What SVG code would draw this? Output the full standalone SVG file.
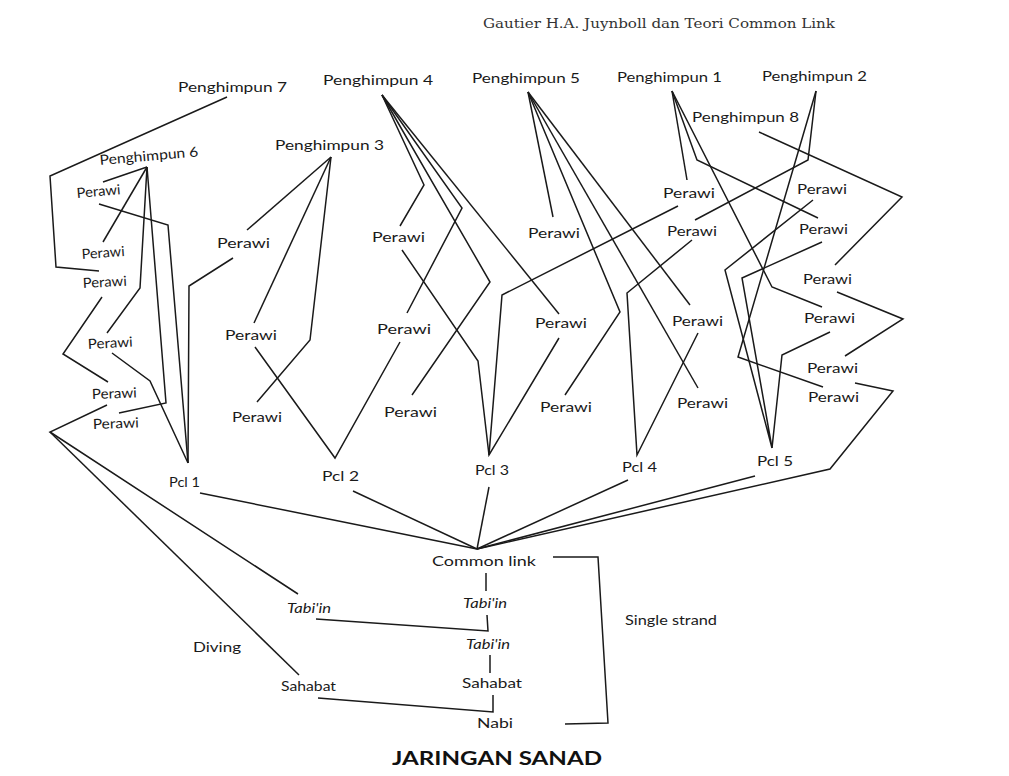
<svg xmlns="http://www.w3.org/2000/svg" width="1009" height="776" viewBox="0 0 1009 776">
<style>
.t{font-family:Lato,"Open Sans","Liberation Sans",sans-serif;font-size:14px;fill:#1a1a1a}
.i{font-style:italic}
.h{font-family:"DejaVu Serif","Liberation Serif",serif;font-size:13px;fill:#333}
.b{font-family:Lato,"Liberation Sans",sans-serif;font-weight:bold;font-size:19px;fill:#111}
.c polyline{fill:none;stroke:#1a1a1a;stroke-width:1.5;stroke-linejoin:miter}
</style>
<rect width="1009" height="776" fill="#fff"/>
<text class="h" x="483" y="28" textLength="352" lengthAdjust="spacingAndGlyphs">Gautier H.A. Juynboll dan Teori Common Link</text>

<g class="c" id="connectors">
<polyline points="227,97 50,176 56,267 99,271"/>
<polyline points="147,167 103,182"/>
<polyline points="99,204 168,225 188,463"/>
<polyline points="147,167 103,242"/>
<polyline points="147,167 140,288 107,333"/>
<polyline points="102,297 63,354 108,382"/>
<polyline points="112,353 150,381 188,463"/>
<polyline points="147,167 166,403 119,413"/>
<polyline points="107,405 50,432 298,594"/>
<polyline points="50,432 299,675"/>
<polyline points="331,157 247,230"/>
<polyline points="233,258 189,286 188,463"/>
<polyline points="331,157 254,323"/>
<polyline points="331,157 310,340 257,402"/>
<polyline points="255,347 335,458 400,342"/>
<polyline points="382,95 424,185 400,226"/>
<polyline points="382,95 462,208 407,313"/>
<polyline points="382,95 490,282 412,395"/>
<polyline points="382,95 559,314"/>
<polyline points="402,250 478,361 489,455 559,338"/>
<polyline points="678,206 502,295 489,455"/>
<polyline points="528,92 553,217"/>
<polyline points="528,92 620,312 565,395"/>
<polyline points="528,92 698,388"/>
<polyline points="528,92 690,305"/>
<polyline points="692,240 627,293 637,455 698,333"/>
<polyline points="672,91 687,180"/>
<polyline points="672,91 697,160 818,218"/>
<polyline points="672,91 772,287 822,307"/>
<polyline points="816,91 808,160 695,220"/>
<polyline points="816,91 738,357 823,387"/>
<polyline points="759,132 902,197 835,265"/>
<polyline points="837,292 903,319 845,356"/>
<polyline points="813,200 725,270 772,448 742,278 822,242"/>
<polyline points="830,332 782,355 772,448"/>
<polyline points="855,383 893,391 830,469 477,549"/>
<polyline points="200,493 477,549"/>
<polyline points="353,491 477,549"/>
<polyline points="489,487 477,549"/>
<polyline points="628,480 477,549"/>
<polyline points="755,476 477,549"/>
<polyline points="486,573 486,591"/>
<polyline points="316,619 488,631 487,615"/>
<polyline points="490,655 490,673"/>
<polyline points="318,698 493,712 493,695"/>
<polyline points="553,557 598,557 608,723 565,724"/>
</g>

<g id="penghimpun7"><text class="t" x="178" y="92" textLength="109" lengthAdjust="spacingAndGlyphs">Penghimpun 7</text></g>
<g id="penghimpun4"><text class="t" x="323" y="85" textLength="110" lengthAdjust="spacingAndGlyphs">Penghimpun 4</text></g>
<g id="penghimpun5"><text class="t" x="472" y="83" textLength="108" lengthAdjust="spacingAndGlyphs">Penghimpun 5</text></g>
<g id="penghimpun1"><text class="t" x="617" y="82" textLength="105" lengthAdjust="spacingAndGlyphs">Penghimpun 1</text></g>
<g id="penghimpun2"><text class="t" x="762" y="81" textLength="105" lengthAdjust="spacingAndGlyphs">Penghimpun 2</text></g>
<g id="penghimpun8"><text class="t" x="692" y="122" textLength="107" lengthAdjust="spacingAndGlyphs">Penghimpun 8</text></g>
<g id="penghimpun3"><text class="t" x="275" y="150" textLength="109" lengthAdjust="spacingAndGlyphs">Penghimpun 3</text></g>
<g id="penghimpun6"><text class="t" x="100" y="165" textLength="99" lengthAdjust="spacingAndGlyphs" transform="rotate(-5 100 165)">Penghimpun 6</text></g>

<g id="perawiA"><text class="t" x="77" y="198" textLength="44" lengthAdjust="spacingAndGlyphs" transform="rotate(-5 77 198)">Perawi</text></g>
<g id="perawiB"><text class="t" x="82" y="259" textLength="43" lengthAdjust="spacingAndGlyphs" transform="rotate(-4 82 259)">Perawi</text></g>
<g id="perawiC"><text class="t" x="83" y="288" textLength="44" lengthAdjust="spacingAndGlyphs" transform="rotate(-3 83 288)">Perawi</text></g>
<g id="perawiD"><text class="t" x="88" y="349" textLength="45" lengthAdjust="spacingAndGlyphs" transform="rotate(-3 88 349)">Perawi</text></g>
<g id="perawiE"><text class="t" x="92" y="399" textLength="45" lengthAdjust="spacingAndGlyphs" transform="rotate(-2 92 399)">Perawi</text></g>
<g id="perawiF"><text class="t" x="93" y="429" textLength="46" lengthAdjust="spacingAndGlyphs" transform="rotate(-2 93 429)">Perawi</text></g>

<g id="perawi3a"><text class="t" x="217" y="248" textLength="53" lengthAdjust="spacingAndGlyphs">Perawi</text></g>
<g id="perawi3b"><text class="t" x="225" y="340" textLength="52" lengthAdjust="spacingAndGlyphs">Perawi</text></g>
<g id="perawi3c"><text class="t" x="232" y="422" textLength="50" lengthAdjust="spacingAndGlyphs">Perawi</text></g>
<g id="perawi4a"><text class="t" x="372" y="242" textLength="53" lengthAdjust="spacingAndGlyphs">Perawi</text></g>
<g id="perawi4b"><text class="t" x="377" y="334" textLength="54" lengthAdjust="spacingAndGlyphs">Perawi</text></g>
<g id="perawi4c"><text class="t" x="384" y="417" textLength="53" lengthAdjust="spacingAndGlyphs">Perawi</text></g>
<g id="perawi5top"><text class="t" x="528" y="238" textLength="52" lengthAdjust="spacingAndGlyphs">Perawi</text></g>
<g id="perawi5a"><text class="t" x="535" y="328" textLength="52" lengthAdjust="spacingAndGlyphs">Perawi</text></g>
<g id="perawi5b"><text class="t" x="540" y="412" textLength="52" lengthAdjust="spacingAndGlyphs">Perawi</text></g>
<g id="perawi1a"><text class="t" x="663" y="198" textLength="52" lengthAdjust="spacingAndGlyphs">Perawi</text></g>
<g id="perawi1b"><text class="t" x="667" y="236" textLength="50" lengthAdjust="spacingAndGlyphs">Perawi</text></g>
<g id="perawi6a"><text class="t" x="672" y="326" textLength="51" lengthAdjust="spacingAndGlyphs">Perawi</text></g>
<g id="perawi6b"><text class="t" x="677" y="408" textLength="51" lengthAdjust="spacingAndGlyphs">Perawi</text></g>
<g id="perawiR1"><text class="t" x="797" y="194" textLength="50" lengthAdjust="spacingAndGlyphs">Perawi</text></g>
<g id="perawiR2"><text class="t" x="799" y="234" textLength="49" lengthAdjust="spacingAndGlyphs">Perawi</text></g>
<g id="perawiR3"><text class="t" x="803" y="284" textLength="49" lengthAdjust="spacingAndGlyphs">Perawi</text></g>
<g id="perawiR4"><text class="t" x="804" y="323" textLength="51" lengthAdjust="spacingAndGlyphs">Perawi</text></g>
<g id="perawiR5"><text class="t" x="807" y="373" textLength="51" lengthAdjust="spacingAndGlyphs">Perawi</text></g>
<g id="perawiR6"><text class="t" x="808" y="402" textLength="51" lengthAdjust="spacingAndGlyphs">Perawi</text></g>

<g id="pcl1"><text class="t" x="169" y="487" textLength="31" lengthAdjust="spacingAndGlyphs">Pcl 1</text></g>
<g id="pcl2"><text class="t" x="322" y="481" textLength="37" lengthAdjust="spacingAndGlyphs">Pcl 2</text></g>
<g id="pcl3"><text class="t" x="475" y="475" textLength="34" lengthAdjust="spacingAndGlyphs">Pcl 3</text></g>
<g id="pcl4"><text class="t" x="622" y="472" textLength="35" lengthAdjust="spacingAndGlyphs">Pcl 4</text></g>
<g id="pcl5"><text class="t" x="757" y="466" textLength="36" lengthAdjust="spacingAndGlyphs">Pcl 5</text></g>

<g id="commonlink"><text class="t" x="432" y="566" textLength="104" lengthAdjust="spacingAndGlyphs">Common link</text></g>
<g id="tabiin1"><text class="t i" x="463" y="608" textLength="44" lengthAdjust="spacingAndGlyphs">Tabi'in</text></g>
<g id="tabiin2"><text class="t i" x="466" y="649" textLength="44" lengthAdjust="spacingAndGlyphs">Tabi'in</text></g>
<g id="sahabat"><text class="t" x="462" y="688" textLength="60" lengthAdjust="spacingAndGlyphs">Sahabat</text></g>
<g id="nabi"><text class="t" x="477" y="728" textLength="36" lengthAdjust="spacingAndGlyphs">Nabi</text></g>
<g id="tabiinL"><text class="t i" x="287" y="613" textLength="44" lengthAdjust="spacingAndGlyphs">Tabi'in</text></g>
<g id="sahabatL"><text class="t" x="281" y="691" textLength="55" lengthAdjust="spacingAndGlyphs">Sahabat</text></g>
<g id="diving"><text class="t" x="193" y="652" textLength="48" lengthAdjust="spacingAndGlyphs">Diving</text></g>
<g id="single"><text class="t" x="625" y="625" textLength="92" lengthAdjust="spacingAndGlyphs">Single strand</text></g>
<text class="b" x="392" y="765" textLength="210" lengthAdjust="spacingAndGlyphs">JARINGAN SANAD</text>
</svg>
